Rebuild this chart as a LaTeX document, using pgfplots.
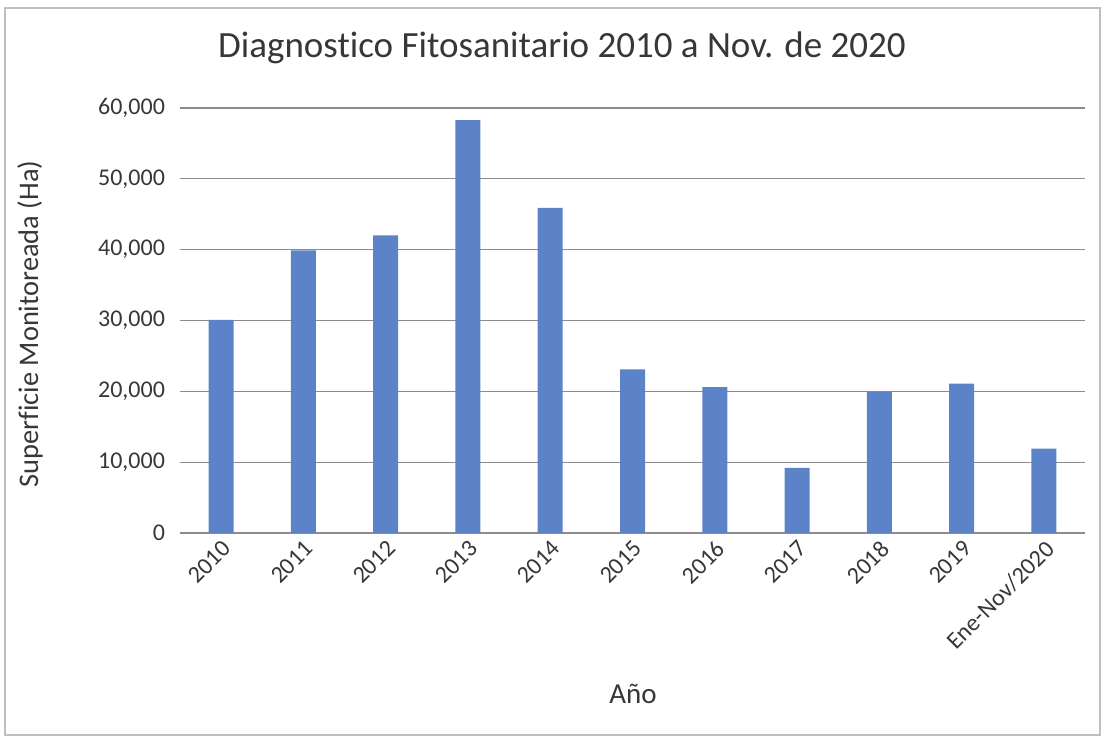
\documentclass[border=0pt]{standalone}
\usepackage{pgfplots}
\pgfplotsset{compat=1.18}
\usepackage{fontspec}
\setmainfont{Carlito}[Ligatures=NoCommon]
\definecolor{barblue}{RGB}{92,130,199}
\definecolor{txt}{RGB}{55,55,55}
\begin{document}
\begin{tikzpicture}
\path (0,0) rectangle (552pt,371pt);
\draw[black!25, line width=0.6pt] (2.5pt,3.5pt) rectangle (550pt,367pt);
\begin{axis}[
  at={(90pt,104.5pt)}, anchor=south west,
  scale only axis, width=452.5pt, height=212.5pt,
  xmin=-0.5, xmax=10.5, ymin=0, ymax=60000,
  xtick=data,
  xticklabels={2010,2011,2012,2013,2014,2015,2016,2017,2018,2019,Ene-Nov/2020},
  axis line style={draw=none},
  ymajorgrids, grid style={black!45, line width=0.6pt},
  major tick length=0pt,
  ytick style={draw=none}, xtick style={draw=none},
  yticklabel={\pgfmathprintnumber[fixed,1000 sep={,},assume math mode=true]{\tick}},
  tick label style={font=\fontsize{12}{14}\selectfont, text=txt},
  x tick label style={rotate=45, anchor=north east, inner sep=2pt},
  y tick label style={xshift=-4pt},
  ytick={0,10000,20000,30000,40000,50000,60000},
  scaled y ticks=false,
  clip=false,
]
\draw[black!45, line width=0.6pt] (axis cs:-0.5,0) -- (axis cs:10.5,0);
\addplot[ybar, bar width=12.5pt, fill=barblue, draw=none] coordinates {
 (0,30100) (1,39900) (2,42000) (3,58300) (4,45900) (5,23100) (6,20600) (7,9200) (8,19900) (9,21100) (10,11900)
};
\end{axis}
\node[text=txt, font=\fontsize{18.5}{22}\selectfont] at (281pt,347pt) {Diagnostico Fitosanitario 2010 a Nov. de 2020};
\node[text=txt, font=\fontsize{14.2}{17}\selectfont, rotate=90] at (15pt,209pt) {Superficie Monitoreada (Ha)};
\node[text=txt, font=\fontsize{14.5}{17}\selectfont] at (316.5pt,24pt) {Año};
\end{tikzpicture}
\end{document}
